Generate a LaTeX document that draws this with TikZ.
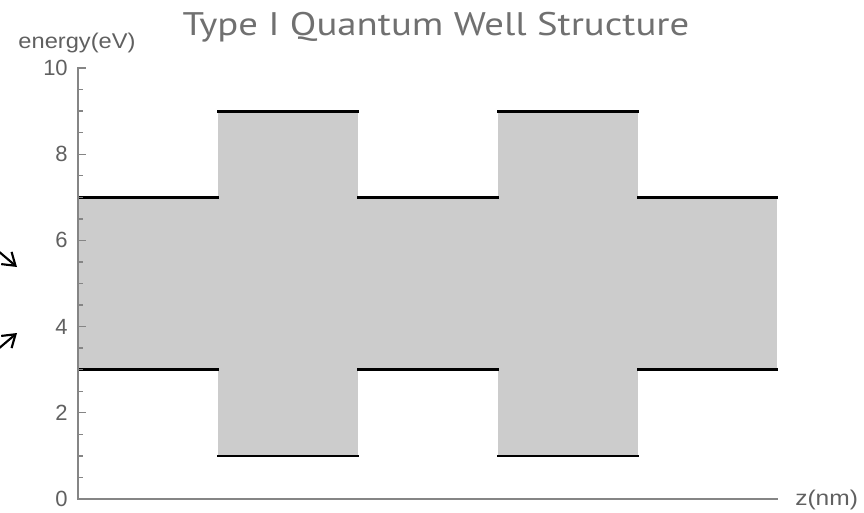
\documentclass[tikz,border=0pt]{standalone}
\usepackage{fontspec}
\usepackage{graphicx}
\setmainfont{Liberation Sans}
\newfontfamily\titlefont{PT Sans}
\usetikzlibrary{arrows.meta}
\definecolor{axisgray}{HTML}{858585}
\definecolor{labgray}{HTML}{606060}
\definecolor{titlegray}{HTML}{707070}
\definecolor{bandgray}{HTML}{CCCCCC}
\tikzset{
  axisline/.style={draw=axisgray, line width=1.2pt},
  majortick/.style={draw=axisgray, line width=1.0pt},
  minortick/.style={draw=axisgray, line width=1.0pt},
  band/.style={fill=bandgray, draw=none},
  edge/.style={draw=black, line width=2.1pt, line cap=rect},
  ticklab/.style={text=labgray, font=\fontsize{16.5}{19}\selectfont, anchor=east, inner sep=0pt},
  axlab/.style={text=labgray, font=\fontsize{16}{19}\selectfont, inner sep=0pt},
  pointer/.style={draw=black, line width=1.6pt, -{Straight Barb[length=9pt,width=12pt]}}
}
\newcommand{\Yv}[1]{499-43.1*#1}
\begin{document}
\begin{tikzpicture}[x=0.75pt,y=-0.75pt]
\useasboundingbox (0,0) rectangle (864,512);
% bands
\fill[band] (78,{\Yv{7}}) rectangle (218,{\Yv{3}});
\fill[band] (218,{\Yv{9}}) rectangle (358,{\Yv{1}});
\fill[band] (358,{\Yv{7}}) rectangle (498,{\Yv{3}});
\fill[band] (498,{\Yv{9}}) rectangle (638,{\Yv{1}});
\fill[band] (638,{\Yv{7}}) rectangle (777,{\Yv{3}});
% edges
\foreach \xa/\xb/\lo/\hi in {79/218/3/7, 218/358/1/9, 358/498/3/7, 498/638/1/9, 638/777/3/7}{
  \draw[edge] (\xa,{\Yv{\hi}}) -- (\xb,{\Yv{\hi}});
  \draw[edge] (\xa,{\Yv{\lo}}) -- (\xb,{\Yv{\lo}});
}
% axes
\draw[axisline] (78,67) -- (78,499) -- (778,499);
\foreach \v in {0,2,4,6,8,10}{
  \draw[majortick] (78,{\Yv{\v}}) -- (86,{\Yv{\v}});
}
\foreach \v in {0.5,1,1.5,2.5,3,3.5,4.5,5,5.5,6.5,7,7.5,8.5,9,9.5}{
  \draw[minortick] (78,{\Yv{\v}}) -- (83,{\Yv{\v}});
}
\node[ticklab] (t0) at (68,{\Yv{0}}) {0};
\node[ticklab] (t2) at (68,{\Yv{2}}) {2};
\node[ticklab] (t4) at (68,{\Yv{4}}) {4};
\node[ticklab] (t6) at (68,{\Yv{6}}) {6};
\node[ticklab] (t8) at (68,{\Yv{8}}) {8};
\node[ticklab] (t10) at (68,{\Yv{10}}) {10};
% labels
\node[axlab] (ylab) at (77,43) {\resizebox{87.75pt}{\height}{energy(eV)}};
\node[axlab, anchor=west] (xlab) at (795,500) {\resizebox{47pt}{\height}{z(nm)}};
\node[text=titlegray, font=\titlefont\fontsize{24.5}{28}\selectfont, inner sep=0pt, anchor=base] (title) at (436,35) {\resizebox{380pt}{\height}{Type I Quantum Well Structure}};
% pointers
\coordinate (p1s) at (-3,250);
\coordinate (p1e) at (17,267);
\coordinate (p2s) at (-3,350);
\coordinate (p2e) at (17,333);
\draw[pointer] (p1s) -- (p1e);
\draw[pointer] (p2s) -- (p2e);
\end{tikzpicture}
\end{document}
